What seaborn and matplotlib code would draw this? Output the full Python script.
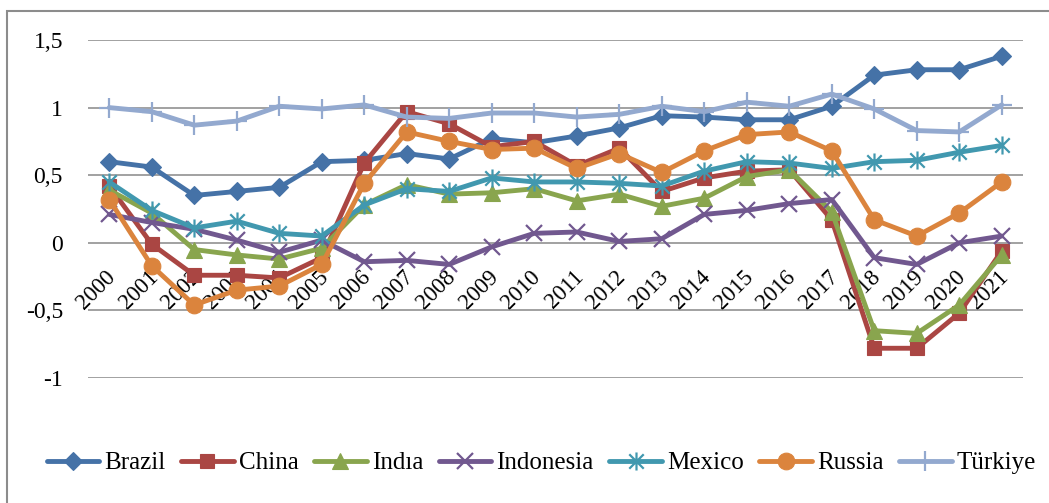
import numpy as np
import pandas as pd
import matplotlib
matplotlib.use("Agg")
import matplotlib.pyplot as plt
from matplotlib.path import Path
from matplotlib.patches import Rectangle
from matplotlib.transforms import ScaledTranslation
import seaborn as sns

years = list(range(2000, 2022))
year_labels = [str(y) for y in years]

brazil    = [0.60, 0.56, 0.35, 0.38, 0.41, 0.60, 0.61, 0.66, 0.62, 0.77, 0.74, 0.79, 0.85, 0.94, 0.93, 0.91, 0.91, 1.01, 1.24, 1.28, 1.28, 1.38]
china     = [0.42, -0.01, -0.24, -0.24, -0.26, -0.11, 0.59, 0.97, 0.88, 0.71, 0.75, 0.57, 0.70, 0.38, 0.48, 0.53, 0.54, 0.17, -0.78, -0.78, -0.52, -0.06]
india     = [0.39, 0.22, -0.05, -0.09, -0.12, -0.04, 0.28, 0.43, 0.36, 0.37, 0.40, 0.31, 0.36, 0.27, 0.33, 0.49, 0.54, 0.23, -0.65, -0.67, -0.46, -0.09]
indonesia = [0.21, 0.15, 0.10, 0.02, -0.07, 0.02, -0.14, -0.13, -0.16, -0.03, 0.07, 0.08, 0.01, 0.03, 0.21, 0.24, 0.29, 0.32, -0.11, -0.16, 0.00, 0.05]
mexico    = [0.45, 0.24, 0.11, 0.16, 0.07, 0.05, 0.28, 0.40, 0.38, 0.48, 0.45, 0.45, 0.44, 0.42, 0.53, 0.60, 0.59, 0.55, 0.60, 0.61, 0.67, 0.72]
russia    = [0.32, -0.17, -0.46, -0.35, -0.32, -0.16, 0.44, 0.82, 0.75, 0.69, 0.70, 0.55, 0.66, 0.52, 0.68, 0.80, 0.82, 0.68, 0.17, 0.05, 0.22, 0.45]
turkiye   = [1.00, 0.97, 0.87, 0.90, 1.01, 0.99, 1.02, 0.93, 0.92, 0.96, 0.96, 0.93, 0.95, 1.01, 0.97, 1.04, 1.01, 1.10, 0.99, 0.83, 0.82, 1.02]

series_names = ["Brazil", "China", "Indıa", "Indonesia", "Mexico", "Russia", "Türkiye"]
series_values = [brazil, china, india, indonesia, mexico, russia, turkiye]

ytick_values = [-1, -0.5, 0, 0.5, 1, 1.5]
ytick_labels = ["-1", "-0,5", "0", "0,5", "1", "1,5"]

colors = ["#4572A7", "#AA4643", "#89A54E", "#71588F", "#4198AF", "#DB843D", "#93A9CF"]

star = Path([(-1, -1), (1, 1), (-1, 1), (1, -1), (0, -1.25), (0, 1.25)],
            [Path.MOVETO, Path.LINETO, Path.MOVETO, Path.LINETO, Path.MOVETO, Path.LINETO])
markers = ["D", "s", "^", "x", star, "o", "+"]
msizes = [9, 10, 11, 12, 13, 12, 14]

sns.set_style("white")
plt.rcParams["font.family"] = ["Liberation Serif", "DejaVu Serif"]
plt.rcParams["text.color"] = "black"
plt.rcParams["xtick.color"] = "black"
plt.rcParams["ytick.color"] = "black"

fig = plt.figure(figsize=(10.49, 5.03), dpi=100)
ax = fig.add_axes([88/1049, 1-378/503, (1023-88)/1049, (378-40)/503])

x = np.arange(len(years))
for name, vals, c, m, ms in zip(series_names, series_values, colors, markers, msizes):
    df = pd.DataFrame({"x": x, "y": vals})
    filled = m not in ("x", "+") and not isinstance(m, Path)
    sns.lineplot(data=df, x="x", y="y", ax=ax, color=c, linewidth=3.5,
                 marker=m, markersize=ms,
                 markerfacecolor=c if filled else "none",
                 markeredgecolor=c, markeredgewidth=1.6 if not filled else 0.8,
                 label=name, clip_on=False, legend=False)

ax.set_xlim(-0.5, len(years) - 0.5)
ax.set_ylim(-1, 1.5)
ax.set_yticks(ytick_values)
ax.set_yticklabels(ytick_labels)
ax.yaxis.grid(True, color="#888888", linewidth=1.1)
ax.xaxis.grid(False)
ax.set_axisbelow(True)
for s in ["left", "right", "top"]:
    ax.spines[s].set_visible(False)
ax.spines["bottom"].set_position(("data", 0))
ax.spines["bottom"].set_visible(False)
ax.set_xticks(x)
ax.set_xticklabels(year_labels)
ax.tick_params(axis="x", length=0, pad=17, labelsize=16.5, labelcolor="black")
ax.tick_params(axis="y", length=0, pad=18, labelsize=17, labelcolor="black")
shift = ScaledTranslation(-4/100, 0, fig.dpi_scale_trans)
for lab in ax.get_xticklabels():
    lab.set_rotation(45)
    lab.set_ha("right")
    lab.set_va("top")
    lab.set_rotation_mode("anchor")
    lab.set_transform(lab.get_transform() + shift)
ax.set_xlabel("")
ax.set_ylabel("")

handles, labels = ax.get_legend_handles_labels()
fig.legend(handles, labels, loc="center", bbox_to_anchor=(0.516, 1-463/503), ncol=7,
           frameon=False, fontsize=18, handlelength=2.1, handletextpad=0.2,
           columnspacing=0.63, borderaxespad=0)

fig.patches.append(Rectangle((7/1049, -0.05), 1.2, 1-11/503+0.05, transform=fig.transFigure,
                             fill=False, edgecolor="#8c8c8c", linewidth=1.5))

fig.savefig("out.png", dpi=100)
